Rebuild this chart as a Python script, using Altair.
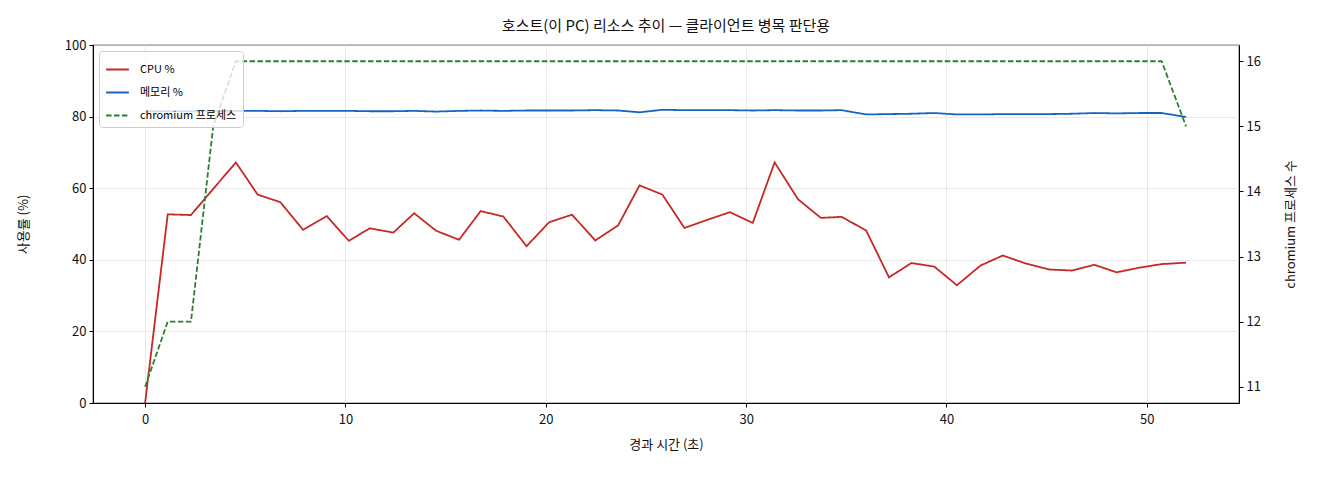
import pandas as pd
import altair as alt

# elapsed time (s) of each sample
t = [0.0, 1.13, 2.29, 3.40, 4.53, 5.62, 6.75, 7.88, 9.07, 10.17,
     11.21, 12.39, 13.43, 14.53, 15.67, 16.75, 17.88, 19.04, 20.17, 21.31,
     22.47, 23.61, 24.68, 25.82, 26.92, 28.03, 29.19, 30.33, 31.42, 32.59,
     33.73, 34.76, 35.99, 37.13, 38.25, 39.39, 40.52, 41.70, 42.81, 43.99,
     45.11, 46.26, 47.38, 48.49, 49.63, 50.74, 51.96]

cpu = [0.0, 52.7, 52.5, 59.8, 67.2, 58.2, 56.1, 48.4, 52.2, 45.3,
       48.8, 47.6, 53.0, 48.1, 45.6, 53.6, 52.1, 43.8, 50.5, 52.6,
       45.4, 49.6, 60.8, 58.2, 48.9, 51.1, 53.3, 50.3, 67.2, 56.9,
       51.7, 52.0, 48.2, 35.1, 39.1, 38.1, 32.9, 38.4, 41.2, 38.9,
       37.3, 37.0, 38.6, 36.5, 37.8, 38.8, 39.2]

mem = [81.5, 81.5, 81.5, 81.5, 81.6, 81.6, 81.5, 81.6, 81.6, 81.6,
       81.5, 81.5, 81.6, 81.4, 81.6, 81.7, 81.6, 81.7, 81.7, 81.7,
       81.8, 81.7, 81.2, 81.9, 81.8, 81.8, 81.8, 81.7, 81.8, 81.7,
       81.7, 81.8, 80.6, 80.7, 80.8, 81.0, 80.6, 80.6, 80.7, 80.7,
       80.7, 80.8, 81.0, 80.9, 81.0, 81.0, 79.9]

procs = [11, 12, 12, 15, 16, 16, 16, 16, 16, 16,
         16, 16, 16, 16, 16, 16, 16, 16, 16, 16,
         16, 16, 16, 16, 16, 16, 16, 16, 16, 16,
         16, 16, 16, 16, 16, 16, 16, 16, 16, 16,
         16, 16, 16, 16, 16, 16, 15]

names = ["CPU %", "메모리 %", "chromium 프로세스"]
colors = ["#c62828", "#1565c0", "#2e7d32"]

pct = pd.concat([
    pd.DataFrame({"t": t, "v": cpu, "series": names[0]}),
    pd.DataFrame({"t": t, "v": mem, "series": names[1]}),
])
proc = pd.DataFrame({"t": t, "n": procs, "series": names[2]})

FONT = "Noto Sans CJK KR"

x = alt.X("t:Q", title="경과 시간 (초)",
          scale=alt.Scale(domain=[-2.6, 54.6], nice=False, zero=False),
          axis=alt.Axis(values=[0, 10, 20, 30, 40, 50], grid=True,
                        labelPadding=6, titlePadding=12))

color = alt.Color("series:N", title=None,
                  scale=alt.Scale(domain=names, range=colors),
                  legend=alt.Legend(orient="top-left", offset=6,
                                    fillColor="rgba(255,255,255,0.8)",
                                    strokeColor="#cccccc", padding=6,
                                    cornerRadius=3, symbolType="stroke",
                                    symbolSize=520, symbolStrokeWidth=1.8,
                                    labelFontSize=11, labelFont=FONT,
                                    rowPadding=5, labelOffset=10))
dash = alt.StrokeDash("series:N",
                      scale=alt.Scale(domain=names, range=[[1, 0], [1, 0], [5.5, 2.4]]),
                      legend=None)

left = alt.Chart(pct).mark_line(strokeWidth=1.8).encode(
    x=x,
    y=alt.Y("v:Q", title="사용률 (%)",
            scale=alt.Scale(domain=[0, 100], nice=False),
            axis=alt.Axis(values=[0, 20, 40, 60, 80, 100], grid=True,
                          titlePadding=34)),
    color=color,
    strokeDash=dash,
    order="series:N",
)

right = alt.Chart(proc).mark_line(strokeWidth=1.8).encode(
    x=x,
    y=alt.Y("n:Q", title="chromium 프로세스 수",
            scale=alt.Scale(domain=[10.75, 16.25], nice=False, zero=False),
            axis=alt.Axis(orient="right", values=[11, 12, 13, 14, 15, 16],
                          grid=False, titleAngle=270, titleBaseline="top",
                          titlePadding=24)),
    color=color,
    strokeDash=dash,
)

chart = alt.layer(left, right).resolve_scale(y="independent").properties(
    width=1146,
    height=358,
    title=alt.TitleParams("호스트(이 PC) 리소스 추이 — 클라이언트 병목 판단용",
                          fontSize=15, fontWeight="normal", font=FONT,
                          offset=5, color="#111111"),
    autosize=alt.AutoSizeParams(type="none"),
    padding={"left": 85, "top": 37, "right": 66, "bottom": 60},
).configure_view(
    stroke="#000000", strokeWidth=1.2
).configure_axis(
    labelFont=FONT, titleFont=FONT, labelFontSize=13, titleFontSize=13,
    titleFontWeight="normal", labelColor="#111111", titleColor="#111111",
    domainColor="#000000", tickColor="#000000", tickSize=4,
    gridColor="#e3e3e3", gridWidth=0.8, labelPadding=3,
)

chart.save("out.html", embed_options={"renderer": "svg", "actions": False})
